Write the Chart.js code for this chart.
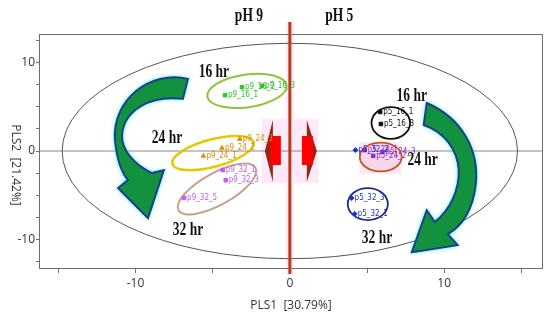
<!DOCTYPE html>
<html>
<head>
<meta charset="utf-8">
<script src="https://cdn.jsdelivr.net/npm/chart.js@4.4.1/dist/chart.umd.min.js"></script>
<style>
html, body { margin: 0; padding: 0; background: #fff; }
</style>
</head>
<body>
<canvas id="myChart" width="550" height="320"></canvas>
<script>
// PLS scores (PLS1 = x, PLS2 = y)
var p9h16X = [-4.2, -3.1, -1.8];
var p9h16Y = [6.3, 7.2, 7.35];
var p9h16Names = ["p9_16_1", "p9_16_2", "p9_16_3"];

var p9h24X = [-5.6, -4.4, -3.25];
var p9h24Y = [-0.55, 0.35, 1.35];
var p9h24Names = ["p9_24_1", "p9_24_2", "p9_24_3"];

var p9h32X = [-6.85, -4.35, -4.15];
var p9h32Y = [-5.3, -2.15, -3.3];
var p9h32Names = ["p9_32_5", "p9_32_1", "p9_32_3"];

var p5h16X = [5.85, 5.9];
var p5h16Y = [4.4, 3.05];
var p5h16Names = ["p5_16_1", "p5_16_3"];

var p5h24X = [4.85, 5.4, 6.0];
var p5h24Y = [0.1, -0.55, -0.1];
var p5h24Names = ["p5_24_1", "p5_24_2", "p5_24_3"];

var p5h32X = [4.0, 4.2, 4.25];
var p5h32Y = [-5.3, -7.1, 0.1];
var p5h32Names = ["p5_32_3", "p5_32_1", "p5_32_2"];

var xTicks = [-15, -10, -5, 0, 5, 10, 15];
var yTicks = [-12.5, -10, -7.5, -5, -2.5, 0, 2.5, 5, 7.5, 10, 12.5];
var xTitle = "PLS1  [30.79%]";
var yTitle = "PLS2  [21.42%]";

function toPoints(xs, ys) {
    return xs.map(function (x, i) { return { x: x, y: ys[i] }; });
}

function makeSet(label, xs, ys, names, color, style) {
    return {
        label: label,
        data: toPoints(xs, ys),
        names: names,
        pointStyle: style,
        pointRadius: 2.5,
        backgroundColor: color,
        borderColor: color,
        borderWidth: 1,
        textColor: color
    };
}

// ellipses around each group, in data units
var groupRings = [
    { x: -2.78, y: 6.78, rx: 2.59, ry: 1.85, rot: -8, color: "#8cc43c", w: 2 },
    { x: -4.98, y: -0.23, rx: 2.72, ry: 1.55, rot: -15, color: "#e2c900", w: 2.5 },
    { x: -4.72, y: -4.29, rx: 2.85, ry: 1.8, rot: -29, color: "#c9a08a", w: 2 },
    { x: 6.54, y: 3.16, rx: 1.25, ry: 1.8, rot: 0, color: "#111111", w: 1.8 },
    { x: 5.89, y: -0.68, rx: 1.36, ry: 1.62, rot: 0, color: "#c0581e", w: 1.8, fill: "#f9d6ec" },
    { x: 5.05, y: -5.99, rx: 1.3, ry: 1.8, rot: 0, color: "#1c2a8a", w: 1.8 }
];

var leftArrow = [
    ["M", -6.60, 8.14],
    ["C", -9.06, 9.15, -11.52, 5.76, -11.33, 1.24],
    ["C", -11.20, -1.02, -10.94, -2.37, -10.49, -3.28],
    ["L", -11.13, -4.18],
    ["L", -9.19, -7.57],
    ["L", -8.16, -2.15],
    ["L", -8.93, -2.49],
    ["C", -10.03, -1.58, -10.94, 0.11, -10.87, 1.81],
    ["C", -10.74, 4.63, -9.06, 6.33, -6.93, 5.88]
];
var rightArrow = [
    ["M", 8.87, 5.42],
    ["C", 11.13, 3.73, 12.30, 0.11, 12.04, -3.84],
    ["C", 11.84, -6.67, 11.13, -8.47, 10.23, -9.38],
    ["L", 10.87, -10.62],
    ["L", 7.90, -11.41],
    ["L", 8.87, -6.67],
    ["L", 9.39, -8.02],
    ["C", 10.36, -6.67, 11.00, -4.41, 10.94, -2.15],
    ["C", 10.87, 0.11, 10.03, 2.15, 8.67, 2.94]
];

var hrLabels = [
    { t: "16 hr", x: -4.92, y: 8.9 },
    { t: "24 hr", x: -7.96, y: 1.47 },
    { t: "32 hr", x: -6.6, y: -9.0 },
    { t: "16 hr", x: 7.9, y: 6.2 },
    { t: "24 hr", x: 8.6, y: -1.1 },
    { t: "32 hr", x: 5.65, y: -9.9 }
];

function drawPath(ctx, sx, sy, cmds) {
    ctx.beginPath();
    cmds.forEach(function (c) {
        if (c[0] == "M") ctx.moveTo(sx.getPixelForValue(c[1]), sy.getPixelForValue(c[2]));
        if (c[0] == "L") ctx.lineTo(sx.getPixelForValue(c[1]), sy.getPixelForValue(c[2]));
        if (c[0] == "C") ctx.bezierCurveTo(
            sx.getPixelForValue(c[1]), sy.getPixelForValue(c[2]),
            sx.getPixelForValue(c[3]), sy.getPixelForValue(c[4]),
            sx.getPixelForValue(c[5]), sy.getPixelForValue(c[6]));
    });
    ctx.closePath();
}

function serifText(ctx, txt, x, y) {
    ctx.save();
    ctx.translate(x, y);
    ctx.scale(0.75, 1);
    ctx.font = 'bold 18px "Liberation Serif", "Times New Roman", serif';
    ctx.textAlign = "center";
    ctx.textBaseline = "middle";
    ctx.fillStyle = "#111";
    ctx.fillText(txt, 0, 0);
    ctx.restore();
}

var decor = {
    id: "decor",
    beforeDatasetsDraw: function (chart) {
        var ctx = chart.ctx, a = chart.chartArea;
        var sx = chart.scales.x, sy = chart.scales.y;
        var x0 = sx.getPixelForValue(0), y0 = sy.getPixelForValue(0);
        ctx.save();

        // pink highlight behind the red divider and arrows
        ctx.fillStyle = "#ffe8f8";
        ctx.fillRect(sx.getPixelForValue(-1.8), sy.getPixelForValue(3.6), sx.getPixelForValue(1.85) - sx.getPixelForValue(-1.8), sy.getPixelForValue(-3.6) - sy.getPixelForValue(3.6));
        ctx.fillRect(x0 - 4, a.top - 12, 8, a.bottom - a.top + 19);
        ctx.fillRect(sx.getPixelForValue(4.5), sy.getPixelForValue(1.0), sx.getPixelForValue(7.2) - sx.getPixelForValue(4.5), sy.getPixelForValue(-2.6) - sy.getPixelForValue(1.0));

        // zero lines
        ctx.strokeStyle = "#8a8a8a";
        ctx.lineWidth = 1;
        ctx.beginPath();
        ctx.moveTo(a.left, y0); ctx.lineTo(a.right, y0);
        ctx.moveTo(x0, a.top); ctx.lineTo(x0, a.bottom);
        ctx.stroke();

        // Hotelling T2 ellipse
        ctx.strokeStyle = "#555";
        ctx.lineWidth = 1;
        ctx.beginPath();
        ctx.ellipse(x0, y0, sx.getPixelForValue(14.75) - x0, y0 - sy.getPixelForValue(12.15), 0, 0, Math.PI * 2);
        ctx.stroke();

        // group ellipses
        groupRings.forEach(function (e) {
            var cx = sx.getPixelForValue(e.x), cy = sy.getPixelForValue(e.y);
            var rx = sx.getPixelForValue(e.x + e.rx) - cx;
            var ry = cy - sy.getPixelForValue(e.y + e.ry);
            ctx.beginPath();
            ctx.ellipse(cx, cy, rx, ry, e.rot * Math.PI / 180, 0, Math.PI * 2);
            if (e.fill) { ctx.fillStyle = e.fill; ctx.fill(); }
            ctx.strokeStyle = e.color;
            ctx.lineWidth = e.w;
            ctx.stroke();
        });

        // red divider line
        ctx.strokeStyle = "#b83a1a";
        ctx.lineWidth = 3;
        ctx.beginPath();
        ctx.moveTo(x0, a.top - 12); ctx.lineTo(x0, a.bottom + 6);
        ctx.stroke();

        // red arrows pointing away from the divider
        [[-1, -1.62, -1.1, -1.29, -0.58], [1, 1.75, 1.1, 0.78, 1.49]].forEach(function (r) {
            ctx.fillStyle = "#8e2a12";
            ctx.beginPath();
            ctx.moveTo(sx.getPixelForValue(r[2]), sy.getPixelForValue(3.5));
            ctx.lineTo(sx.getPixelForValue(r[1]), sy.getPixelForValue(0));
            ctx.lineTo(sx.getPixelForValue(r[2]), sy.getPixelForValue(-3.5));
            ctx.closePath();
            ctx.fill();
            ctx.fillStyle = "#ff0000";
            var l = sx.getPixelForValue(r[3]), rr = sx.getPixelForValue(r[4]);
            ctx.fillRect(l, sy.getPixelForValue(1.69), rr - l, sy.getPixelForValue(-1.58) - sy.getPixelForValue(1.69));
        });

        // green curved arrows
        [leftArrow, rightArrow].forEach(function (p) {
            ctx.save();
            ctx.shadowColor = "#00e8ff";
            ctx.shadowBlur = 5;
            drawPath(ctx, sx, sy, p);
            ctx.fillStyle = "#12923f";
            ctx.fill();
            ctx.restore();
            drawPath(ctx, sx, sy, p);
            ctx.strokeStyle = "#1e3f86";
            ctx.lineWidth = 2;
            ctx.stroke();
        });
        ctx.restore();
    },
    afterDatasetsDraw: function (chart) {
        var ctx = chart.ctx, a = chart.chartArea;
        var sx = chart.scales.x, sy = chart.scales.y;
        ctx.save();

        // sample names next to each point
        ctx.font = '8px "DejaVu Sans Condensed", "DejaVu Sans", sans-serif';
        ctx.textBaseline = "middle";
        ctx.textAlign = "left";
        chart.data.datasets.forEach(function (ds, i) {
            chart.getDatasetMeta(i).data.forEach(function (pt, j) {
                ctx.fillStyle = ds.textColor;
                ctx.fillText(ds.names[j], pt.x + 3, pt.y);
            });
        });

        // hour labels and pH headings
        hrLabels.forEach(function (h) {
            serifText(ctx, h.t, sx.getPixelForValue(h.x), sy.getPixelForValue(h.y));
        });
        serifText(ctx, "pH 9", sx.getPixelForValue(-2.65), 16);
        serifText(ctx, "pH 5", sx.getPixelForValue(3.2), 16);

        // box round the plot
        ctx.strokeStyle = "#6d6d6d";
        ctx.lineWidth = 1;
        ctx.strokeRect(a.left + 0.5, a.top + 0.5, a.right - a.left - 1, a.bottom - a.top);

        // y title
        ctx.translate(15, 165);
        ctx.rotate(Math.PI / 2);
        ctx.font = '12px "Open Sans", sans-serif';
        ctx.fillStyle = "#333";
        ctx.textAlign = "center";
        ctx.textBaseline = "middle";
        ctx.fillText(yTitle, 0, 0);
        ctx.restore();
    }
};

var ctx = document.getElementById("myChart").getContext("2d");
var myChart = new Chart(ctx, {
    type: "scatter",
    data: {
        datasets: [
            makeSet("pH9 16 hr", p9h16X, p9h16Y, p9h16Names, "#2fc42f", "rect"),
            makeSet("pH9 24 hr", p9h24X, p9h24Y, p9h24Names, "#e08a00", "triangle"),
            makeSet("pH9 32 hr", p9h32X, p9h32Y, p9h32Names, "#c35cf5", "rect"),
            makeSet("pH5 16 hr", p5h16X, p5h16Y, p5h16Names, "#111111", "rect"),
            makeSet("pH5 24 hr", p5h24X, p5h24Y, p5h24Names, "#8d2fc4", "rect"),
            makeSet("pH5 32 hr", p5h32X, p5h32Y, p5h32Names, "#1f2fd6", "rectRot")
        ]
    },
    options: {
        responsive: false,
        animation: false,
        devicePixelRatio: 1,
        layout: { padding: { left: 0, right: 7, top: 34, bottom: 0 } },
        plugins: { legend: { display: false }, tooltip: { enabled: false } },
        scales: {
            x: {
                type: "linear",
                min: -16.25,
                max: 16.4,
                afterBuildTicks: function (s) { s.ticks = xTicks.map(function (v) { return { value: v }; }); },
                afterFit: function (s) { s.height = 52; },
                ticks: {
                    autoSkip: false,
                    maxRotation: 0,
                    padding: 3,
                    color: "#333",
                    font: { family: "Open Sans", size: 12 },
                    callback: function (v) { return v % 10 == 0 ? String(v) : ""; }
                },
                grid: { drawOnChartArea: false, tickLength: 5, color: "#6d6d6d" },
                border: { display: false },
                title: {
                    display: true,
                    text: xTitle,
                    color: "#333",
                    font: { family: "Open Sans", size: 12 },
                    padding: { top: 0, bottom: 7 }
                }
            },
            y: {
                type: "linear",
                min: -13.2,
                max: 13.2,
                afterBuildTicks: function (s) { s.ticks = yTicks.map(function (v) { return { value: v }; }); },
                afterFit: function (s) { s.width = 39; },
                ticks: {
                    autoSkip: false,
                    padding: 1,
                    color: "#333",
                    font: { family: "Open Sans", size: 12 },
                    callback: function (v) { return v % 10 == 0 ? String(v) : ""; }
                },
                grid: { drawOnChartArea: false, tickLength: 3, color: "#6d6d6d" },
                border: { display: false }
            }
        }
    },
    plugins: [decor]
});
</script>
</body>
</html>
